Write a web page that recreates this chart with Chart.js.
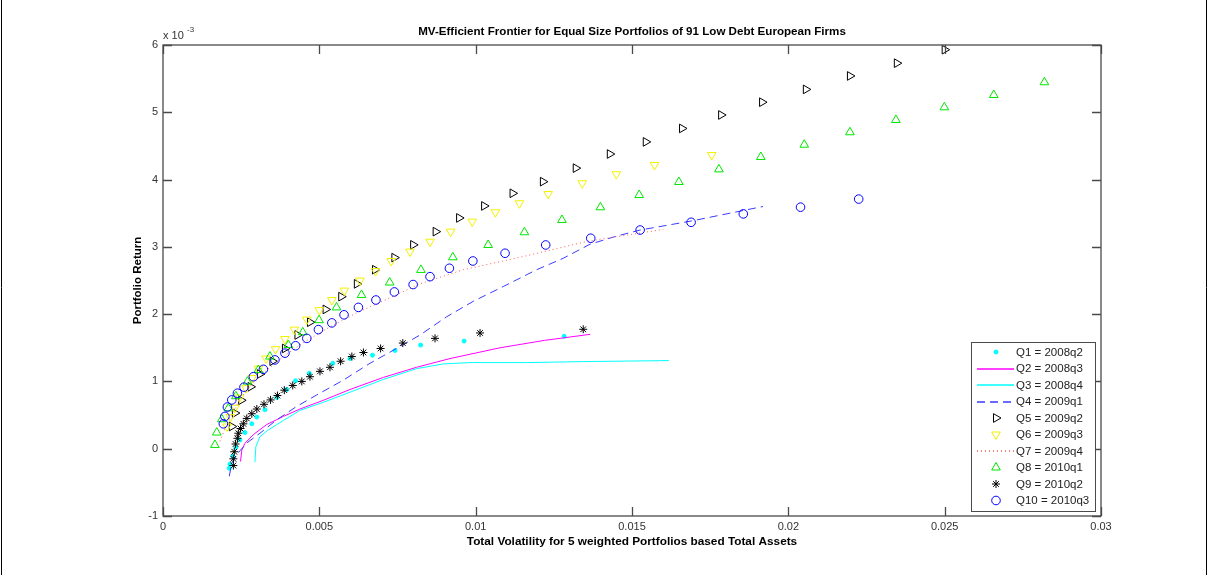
<!DOCTYPE html>
<html>
<head>
<meta charset="utf-8">
<title>MV-Efficient Frontier</title>
<script src="https://cdn.jsdelivr.net/npm/chart.js@4.4.1/dist/chart.umd.min.js"></script>
<style>
  html, body { margin: 0; padding: 0; background: #fff; }
  #frontier { display: block; }
</style>
</head>
<body>
<canvas id="frontier" width="1212" height="575"></canvas>
<script>
'use strict';

// Frontier points per quarter: total volatility (x) and portfolio return in units of 1e-3 (y)
const vol1 = [0.00212, 0.00214, 0.00223, 0.00233, 0.00246, 0.00262, 0.00284, 0.00300, 0.00326, 0.00364, 0.00396, 0.00424, 0.00468, 0.00543, 0.00598, 0.00670, 0.00742, 0.00824, 0.00963, 0.01283];
const ret1 = [-0.29, -0.23, -0.11, 0.02, 0.13, 0.24, 0.37, 0.47, 0.58, 0.76, 0.88, 1.01, 1.12, 1.27, 1.34, 1.39, 1.46, 1.54, 1.60, 1.67];

const vol2 = [0.00248, 0.00252, 0.00262, 0.00289, 0.00332, 0.00385, 0.00438, 0.00513, 0.00598, 0.00705, 0.00811, 0.00918, 0.01078, 0.01220, 0.01366];
const ret2 = [-0.19, -0.02, 0.08, 0.21, 0.36, 0.48, 0.59, 0.72, 0.88, 1.06, 1.21, 1.34, 1.50, 1.61, 1.70];

const vol3 = [0.00294, 0.00297, 0.00310, 0.00337, 0.00385, 0.00438, 0.00513, 0.00598, 0.00705, 0.00811, 0.00896, 0.00982, 0.01163, 0.01344, 0.01618];
const ret3 = [-0.20, 0.03, 0.18, 0.28, 0.42, 0.57, 0.69, 0.84, 1.03, 1.19, 1.26, 1.28, 1.28, 1.295, 1.31];

const vol4 = [0.00212, 0.00220, 0.00241, 0.00268, 0.00310, 0.00364, 0.00428, 0.00492, 0.00577, 0.00662, 0.00747, 0.00822, 0.00907, 0.00992, 0.01088, 0.01195, 0.01280, 0.01366, 0.01451, 0.01526, 0.01691, 0.01919];
const ret4 = [-0.41, -0.21, -0.06, 0.085, 0.23, 0.43, 0.63, 0.80, 1.02, 1.27, 1.49, 1.69, 1.96, 2.19, 2.41, 2.66, 2.83, 3.04, 3.16, 3.25, 3.385, 3.60];

const vol5 = [0.00220, 0.00230, 0.00250, 0.00280, 0.00310, 0.00350, 0.00390, 0.00430, 0.00470, 0.00520, 0.00570, 0.00620, 0.00678, 0.00740, 0.00800, 0.00872, 0.00947, 0.01027, 0.01118, 0.01215, 0.01320, 0.01429, 0.01544, 0.01660, 0.01785, 0.01916, 0.02056, 0.02197, 0.02347, 0.02500];
const ret5 = [0.33, 0.53, 0.72, 0.92, 1.11, 1.30, 1.49, 1.69, 1.88, 2.07, 2.26, 2.45, 2.66, 2.84, 3.03, 3.226, 3.43, 3.608, 3.796, 3.969, 4.17, 4.38, 4.56, 4.76, 4.96, 5.15, 5.34, 5.54, 5.73, 5.93];

const vol6 = [0.00205, 0.00215, 0.00230, 0.00245, 0.00265, 0.00285, 0.00305, 0.00330, 0.00360, 0.00390, 0.00420, 0.00460, 0.00500, 0.00540, 0.00580, 0.00630, 0.00680, 0.00730, 0.00790, 0.00854, 0.00920, 0.00989, 0.01063, 0.01140, 0.01232, 0.01341, 0.01450, 0.01572, 0.01755];
const ret6 = [0.33, 0.47, 0.61, 0.76, 0.90, 1.05, 1.19, 1.34, 1.48, 1.63, 1.77, 1.92, 2.06, 2.21, 2.35, 2.50, 2.64, 2.79, 2.93, 3.077, 3.226, 3.375, 3.514, 3.648, 3.786, 3.945, 4.08, 4.217, 4.365];

const vol7 = [0.00182, 0.00204, 0.00225, 0.00250, 0.00285, 0.00330, 0.00385, 0.00450, 0.00530, 0.00620, 0.00720, 0.00822, 0.00960, 0.01142, 0.01355, 0.01600];
const ret7 = [0.11, 0.36, 0.56, 0.76, 0.96, 1.16, 1.37, 1.58, 1.80, 2.02, 2.23, 2.45, 2.66, 2.845, 3.08, 3.26];

const vol8 = [0.00166, 0.00172, 0.00188, 0.00209, 0.00233, 0.00270, 0.00305, 0.00342, 0.00401, 0.00447, 0.00499, 0.00555, 0.00635, 0.00725, 0.00825, 0.00927, 0.01040, 0.01156, 0.01276, 0.01399, 0.01523, 0.01650, 0.01778, 0.01912, 0.02051, 0.02197, 0.02344, 0.02499, 0.02657, 0.02819];
const ret8 = [0.056, 0.24, 0.438, 0.60, 0.78, 0.997, 1.17, 1.37, 1.54, 1.73, 1.91, 2.10, 2.285, 2.47, 2.657, 2.845, 3.028, 3.217, 3.40, 3.588, 3.77, 3.964, 4.152, 4.336, 4.518, 4.703, 4.886, 5.074, 5.257, 5.446];

const vol9 = [0.00225, 0.00225, 0.00228, 0.00232, 0.00238, 0.00241, 0.00248, 0.00257, 0.00268, 0.00284, 0.00300, 0.00323, 0.00344, 0.00366, 0.00388, 0.00415, 0.00444, 0.00470, 0.00502, 0.00534, 0.00568, 0.00604, 0.00641, 0.00696, 0.00767, 0.00870, 0.01014, 0.01344];
const ret9 = [-0.25, -0.15, -0.045, 0.07, 0.155, 0.23, 0.30, 0.37, 0.45, 0.52, 0.59, 0.66, 0.725, 0.79, 0.87, 0.94, 1.00, 1.07, 1.15, 1.21, 1.30, 1.37, 1.43, 1.49, 1.57, 1.64, 1.72, 1.775];

const vol10 = [0.00193, 0.00198, 0.00206, 0.00220, 0.00238, 0.00259, 0.00289, 0.00321, 0.00358, 0.00390, 0.00424, 0.00460, 0.00497, 0.00540, 0.00579, 0.00625, 0.00681, 0.00740, 0.00800, 0.00854, 0.00916, 0.00991, 0.01094, 0.01224, 0.01368, 0.01526, 0.01689, 0.01856, 0.02039, 0.02225];
const ret10 = [0.37, 0.48, 0.62, 0.725, 0.825, 0.915, 1.07, 1.18, 1.32, 1.42, 1.53, 1.64, 1.77, 1.87, 1.99, 2.10, 2.21, 2.33, 2.44, 2.557, 2.682, 2.79, 2.905, 3.028, 3.128, 3.25, 3.365, 3.49, 3.59, 3.71];

const quarterNames = ['Q1 = 2008q2', 'Q2 = 2008q3', 'Q3 = 2008q4', 'Q4 = 2009q1', 'Q5 = 2009q2',
                      'Q6 = 2009q3', 'Q7 = 2009q4', 'Q8 = 2010q1', 'Q9 = 2010q2', 'Q10 = 2010q3'];
const xTicks = [0, 0.005, 0.01, 0.015, 0.02, 0.025, 0.03];
const yTicks = [-1, 0, 1, 2, 3, 4, 5, 6];

const chartTitle = 'MV-Efficient Frontier for Equal Size Portfolios of 91 Low Debt European Firms';
const xTitle = 'Total Volatility for 5 weighted Portfolios based Total Assets';
const yTitle = 'Portfolio Return';

const pts = (xs, ys) => xs.map((x, i) => ({ x: x, y: ys[i] }));

// line / marker style for each quarter, in the same order as quarterNames
const seriesStyle = [
  { data: pts(vol1, ret1), showLine: false, pointStyle: 'circle', pointRadius: 2, color: '#00ffff', fill: '#00ffff', borderWidth: 1 },
  { data: pts(vol2, ret2), showLine: true, pointRadius: 0, color: '#ff00ff' },
  { data: pts(vol3, ret3), showLine: true, pointRadius: 0, color: '#00ffff' },
  { data: pts(vol4, ret4), showLine: true, pointRadius: 0, color: '#3a3aff', dash: [8, 5] },
  { data: pts(vol5, ret5), showLine: false, pointStyle: 'triangle', rotation: 90, pointRadius: 5, color: '#000000' },
  { data: pts(vol6, ret6), showLine: false, pointStyle: 'triangle', rotation: 180, pointRadius: 5, color: '#f2f200' },
  { data: pts(vol7, ret7), showLine: true, pointRadius: 0, color: '#ff5a5a', dash: [1, 3] },
  { data: pts(vol8, ret8), showLine: false, pointStyle: 'triangle', rotation: 0, pointRadius: 5, color: '#00e600' },
  { data: pts(vol9, ret9), showLine: false, pointStyle: 'star', pointRadius: 4, color: '#000000', borderWidth: 1 },
  { data: pts(vol10, ret10), showLine: false, pointStyle: 'circle', pointRadius: 4.3, color: '#0000ff' }
];

const datasets = seriesStyle.map((s, i) => ({
  label: quarterNames[i],
  data: s.data,
  showLine: s.showLine,
  borderColor: s.color,
  backgroundColor: s.fill || 'rgba(0,0,0,0)',
  borderWidth: s.showLine ? 1 : (s.borderWidth || 1),
  borderDash: s.dash || [],
  pointStyle: s.pointStyle || 'circle',
  pointRotation: s.rotation || 0,
  pointRadius: s.pointRadius,
  pointBorderColor: s.color,
  pointBackgroundColor: s.fill || 'rgba(0,0,0,0)',
  pointBorderWidth: s.borderWidth || 1,
  pointHoverRadius: s.pointRadius,
  tension: 0,
  order: quarterNames.length - i   // later quarters are drawn on top
}));

const AXIS_LEFT = 163, AXIS_TOP = 45, AXIS_RIGHT = 1101, AXIS_BOTTOM = 516;
const FONT = '"Liberation Sans", Arial, Helvetica, sans-serif';

// box, inward ticks, titles and legend drawn on top of the plot
const matlabAxes = {
  id: 'matlabAxes',
  afterDraw(chart) {
    const ctx = chart.ctx;
    const a = chart.chartArea;
    const xs = chart.scales.x, ys = chart.scales.y;
    ctx.save();

    // figure frame
    ctx.strokeStyle = '#000';
    ctx.lineWidth = 1;
    ctx.beginPath();
    ctx.moveTo(1.5, 0); ctx.lineTo(1.5, 575);
    ctx.moveTo(1206.5, 0); ctx.lineTo(1206.5, 575);
    ctx.stroke();

    // axes box
    ctx.strokeStyle = '#4a4a4a';
    ctx.lineWidth = 1.3;
    ctx.strokeRect(a.left, a.top, a.right - a.left, a.bottom - a.top);

    // ticks pointing into the plot on all four sides
    ctx.beginPath();
    xTicks.forEach(v => {
      const px = Math.round(xs.getPixelForValue(v)) + 0.5;
      ctx.moveTo(px, a.bottom); ctx.lineTo(px, a.bottom - 9);
      ctx.moveTo(px, a.top); ctx.lineTo(px, a.top + 9);
    });
    yTicks.forEach(v => {
      const py = Math.round(ys.getPixelForValue(v)) + 0.5;
      ctx.moveTo(a.left, py); ctx.lineTo(a.left + 9, py);
      ctx.moveTo(a.right, py); ctx.lineTo(a.right - 9, py);
    });
    ctx.stroke();

    // exponent label above the y axis
    ctx.fillStyle = '#333';
    ctx.textAlign = 'left';
    ctx.textBaseline = 'alphabetic';
    ctx.font = '11px ' + FONT;
    ctx.fillText('x 10', a.left, a.top - 6);
    ctx.font = '8px ' + FONT;
    ctx.fillText('-3', a.left + 24, a.top - 13);

    // titles
    ctx.fillStyle = '#000';
    ctx.textAlign = 'center';
    ctx.textBaseline = 'middle';
    const cx = (a.left + a.right) / 2;
    ctx.font = 'bold 11.6px ' + FONT;
    ctx.fillText(chartTitle, cx, 32);
    ctx.font = 'bold 11.8px ' + FONT;
    ctx.fillText(xTitle, cx, 542);
    ctx.save();
    ctx.translate(138, (a.top + a.bottom) / 2);
    ctx.rotate(-Math.PI / 2);
    ctx.font = 'bold 11.5px ' + FONT;
    ctx.fillText(yTitle, 0, 0);
    ctx.restore();

    // legend box
    const lx = 971, ly = 342, lw = 124, lh = 169;
    ctx.fillStyle = '#fff';
    ctx.fillRect(lx, ly, lw, lh);
    ctx.strokeStyle = '#4a4a4a';
    ctx.lineWidth = 1;
    ctx.strokeRect(lx + 0.5, ly + 0.5, lw, lh);

    const rowH = 16.5;
    chart.data.datasets.forEach((ds, i) => {
      const st = seriesStyle[i];
      const cy = ly + 10 + i * rowH;
      if (st.showLine) {
        ctx.strokeStyle = st.color;
        ctx.lineWidth = 1.6;
        ctx.setLineDash(st.dash || []);
        ctx.beginPath();
        ctx.moveTo(977, Math.round(cy));
        ctx.lineTo(1014, Math.round(cy));
        ctx.stroke();
        ctx.setLineDash([]);
      } else {
        ctx.strokeStyle = st.color;
        ctx.fillStyle = st.fill || 'rgba(0,0,0,0)';
        ctx.lineWidth = st.borderWidth || 1;
        Chart.helpers.drawPoint(ctx, {
          pointStyle: st.pointStyle,
          rotation: st.rotation || 0,
          radius: st.pointRadius,
          borderWidth: st.borderWidth || 1
        }, 996, cy);
      }
      ctx.fillStyle = '#222';
      ctx.textAlign = 'left';
      ctx.textBaseline = 'middle';
      ctx.font = '11.5px ' + FONT;
      ctx.fillText(ds.label, 1016, cy + 0.5);
    });

    ctx.restore();
  }
};

Chart.defaults.font.family = FONT;
Chart.defaults.font.size = 11;
Chart.defaults.color = '#333';

const frontierChart = new Chart(document.getElementById('frontier'), {
  type: 'scatter',
  data: { datasets: datasets },
  options: {
    responsive: false,
    animation: false,
    devicePixelRatio: 1,
    layout: { padding: { left: 0, top: AXIS_TOP, right: 1212 - AXIS_RIGHT, bottom: 0 } },
    plugins: {
      legend: { display: false },
      title: { display: false },
      tooltip: { enabled: false }
    },
    scales: {
      x: {
        type: 'linear',
        min: 0,
        max: 0.03,
        grid: { display: false, drawTicks: false },
        border: { display: false },
        afterBuildTicks: scale => { scale.ticks = xTicks.map(v => ({ value: v })); },
        afterFit: scale => { scale.height = 575 - AXIS_BOTTOM; },
        ticks: {
          padding: 4,
          maxRotation: 0,
          color: '#333',
          callback: v => String(+Number(v).toFixed(3))
        }
      },
      y: {
        type: 'linear',
        min: -1,
        max: 6,
        grid: { display: false, drawTicks: false },
        border: { display: false },
        afterBuildTicks: scale => { scale.ticks = yTicks.map(v => ({ value: v })); },
        afterFit: scale => { scale.width = AXIS_LEFT; },
        ticks: {
          padding: 5,
          color: '#333',
          callback: v => String(v)
        }
      }
    }
  },
  plugins: [matlabAxes]
});
</script>
</body>
</html>
